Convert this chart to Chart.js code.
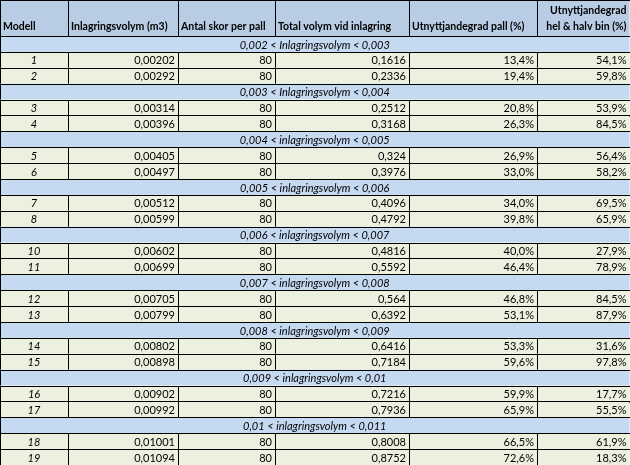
<!DOCTYPE html>
<html>
<head>
<meta charset="utf-8">
<script src="https://cdn.jsdelivr.net/npm/chart.js@4/dist/chart.umd.min.js"></script>
<style>
  html, body { margin: 0; padding: 0; background: #fff; }
  canvas { display: block; }
</style>
</head>
<body>
<canvas id="tableChart" width="630" height="465"></canvas>
<script>
// table contents
const headers = ['Modell', 'Inlagringsvolym (m3)', 'Antal skor per pall', 'Total volym vid inlagring', 'Utnyttjandegrad pall (%)', 'Utnyttjandegrad\nhel & halv bin (%)'];
const groupLabels = [
    '0,002 < Inlagringsvolym < 0,003',
    '0,003 < Inlagringsvolym < 0,004',
    '0,004 < inlagringsvolym < 0,005',
    '0,005 < inlagringsvolym < 0,006',
    '0,006 < inlagringsvolym < 0,007',
    '0,007 < inlagringsvolym < 0,008',
    '0,008 < inlagringsvolym < 0,009',
    '0,009 < inlagringsvolym < 0,01',
    '0,01 < inlagringsvolym < 0,011'
];
const models = ['1', '2', '3', '4', '5', '6', '7', '8', '10', '11', '12', '13', '14', '15', '16', '17', '18', '19'];
const volumes = ['0,00202', '0,00292', '0,00314', '0,00396', '0,00405', '0,00497', '0,00512', '0,00599', '0,00602', '0,00699', '0,00705', '0,00799', '0,00802', '0,00898', '0,00902', '0,00992', '0,01001', '0,01094'];
const perPall = ['80', '80', '80', '80', '80', '80', '80', '80', '80', '80', '80', '80', '80', '80', '80', '80', '80', '80'];
const totals = ['0,1616', '0,2336', '0,2512', '0,3168', '0,324', '0,3976', '0,4096', '0,4792', '0,4816', '0,5592', '0,564', '0,6392', '0,6416', '0,7184', '0,7216', '0,7936', '0,8008', '0,8752'];
const pallPct = ['13,4%', '19,4%', '20,8%', '26,3%', '26,9%', '33,0%', '34,0%', '39,8%', '40,0%', '46,4%', '46,8%', '53,1%', '53,3%', '59,6%', '59,9%', '65,9%', '66,5%', '72,6%'];
const binPct = ['54,1%', '59,8%', '53,9%', '84,5%', '56,4%', '58,2%', '69,5%', '65,9%', '27,9%', '78,9%', '84,5%', '87,9%', '31,6%', '97,8%', '17,7%', '55,5%', '61,9%', '18,3%'];
const columnEdges = [0, 68, 178, 275, 409, 537, 629.5];

const tablePlugin = {
    id: 'tableDraw',
    afterDraw(chart) {
        const ctx = chart.ctx;
        const xs = chart.scales.x, ys = chart.scales.y;
        const X = v => xs.getPixelForValue(v);
        const Y = v => ys.getPixelForValue(v);
        const font = '11px Lato, "Liberation Sans", sans-serif';
        ctx.save();
        ctx.strokeStyle = '#000';
        ctx.lineWidth = 1;

        function cell(x0, x1, y0, y1, fill, text, align, style, header) {
            const l = X(x0), r = X(x1), t = Y(y0), b = Y(y1);
            ctx.fillStyle = fill;
            ctx.fillRect(l, t, r - l, b - t);
            ctx.strokeRect(Math.round(l) + 0.5, Math.round(t) + 0.5, Math.round(r - l), Math.round(b - t));
            ctx.fillStyle = '#000';
            ctx.font = (style || '') + ' ' + (header ? '10.5px Lato, "Liberation Sans", sans-serif' : font);
            ctx.textBaseline = 'middle';
            const lines = text.split('\n');
            lines.forEach((ln, i) => {
                let cy;
                if (header) cy = b - 9 - (lines.length - 1 - i) * 16;
                else cy = (t + b) / 2 + 1;
                if (align === 'right') { ctx.textAlign = 'right'; ctx.fillText(ln, r - 3, cy); }
                else if (align === 'center') { ctx.textAlign = 'center'; ctx.fillText(ln, (l + r) / 2, cy); }
                else { ctx.textAlign = 'left'; ctx.fillText(ln, l + 3, cy); }
            });
        }

        // header row
        headers.forEach((h, c) => {
            cell(columnEdges[c], columnEdges[c + 1], -2.27, 0, '#b8cce4', h,
                c === 5 ? 'right' : 'left', 'bold', true);
        });

        let row = 0;
        groupLabels.forEach((g, gi) => {
            cell(0, columnEdges[6], row, row + 1, '#c5d9f1', g, 'center', 'italic');
            row++;
            for (let k = 0; k < 2; k++) {
                const i = gi * 2 + k;
                const vals = [models[i], volumes[i], perPall[i], totals[i], pallPct[i], binPct[i]];
                vals.forEach((v, c) => {
                    cell(columnEdges[c], columnEdges[c + 1], row, row + 1, '#ebf1de', v,
                        c === 0 ? 'center' : 'right', c === 0 ? 'italic' : '');
                });
                row++;
            }
        });
        ctx.restore();
    }
};

new Chart(document.getElementById('tableChart').getContext('2d'), {
    type: 'scatter',
    data: { datasets: [{ data: [] }] },
    options: {
        responsive: false,
        animation: false,
        devicePixelRatio: 1,
        layout: { padding: 0 },
        plugins: { legend: { display: false }, tooltip: { enabled: false } },
        scales: {
            x: { type: 'linear', min: 0, max: 630, display: false },
            y: { type: 'linear', min: -2.27, max: 27, reverse: true, display: false }
        }
    },
    plugins: [tablePlugin]
});
</script>
</body>
</html>
